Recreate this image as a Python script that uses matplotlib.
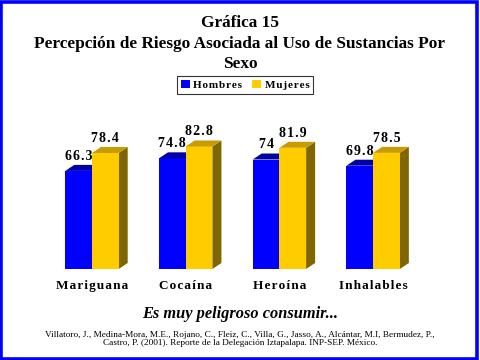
import numpy as np
import matplotlib
matplotlib.use("Agg")
import matplotlib.pyplot as plt
from matplotlib.patches import Polygon, Rectangle, Patch

# data
categorias = ["Mariguana", "Cocaína", "Heroína", "Inhalables"]
hombres = [66.3, 74.8, 74, 69.8]
mujeres = [78.4, 82.8, 81.9, 78.5]
etiquetas_h = ["66.3", "74.8", "74", "69.8"]
etiquetas_m = ["78.4", "82.8", "81.9", "78.5"]

serif = ["Liberation Serif", "DejaVu Serif"]
plt.rcParams["font.family"] = serif

def espaciado(s):
    # spread letters a little, like the original
    return "\u200a".join(s)

fig = plt.figure(figsize=(4.8, 3.6), dpi=100)
fig.patch.set_facecolor("white")

ax = fig.add_axes([0.094, 0.2528, 0.781, 0.411])
ax.set_xlim(-0.5, 3.5)
ax.set_ylim(0, 100)
ax.axis("off")

w = 0.285
dx, dy = 0.096, 4.05
x = np.arange(len(categorias))

series = [
    (hombres, etiquetas_h, x - w / 2, "#0000ff", "#0000a8", "#000080"),
    (mujeres, etiquetas_m, x + w / 2, "#ffcc00", "#c89b00", "#7f6600"),
]

for vals, labs, xs, front, top, side in series:
    ax.bar(xs, vals, width=w, color=front, zorder=2)
    for xc, v, lab in zip(xs, vals, labs):
        x0, x1 = xc - w / 2, xc + w / 2
        ax.add_patch(Polygon([(x0, v), (x1, v), (x1 + dx, v + dy), (x0 + dx, v + dy)],
                             closed=True, facecolor=top, edgecolor="none", zorder=2))
        ax.add_patch(Polygon([(x1, 0), (x1 + dx, dy), (x1 + dx, v + dy), (x1, v)],
                             closed=True, facecolor=side, edgecolor="none", zorder=1.5))
        ax.annotate(espaciado(lab), (xc, v + dy), xytext=(0, 1.5), textcoords="offset points",
                    ha="center", va="bottom", fontsize=10, fontweight="bold", family=serif)

for xi, c in zip(x, categorias):
    ax.text(xi, -11.5, espaciado(c), ha="center", va="center", fontsize=9.5,
            fontweight="bold", family=serif)

fig.text(0.5, 0.925, "Gráfica 15", ha="center", va="baseline", fontsize=12.4, fontweight="bold")
fig.text(0.5, 0.867, "Percepción de Riesgo Asociada al Uso de Sustancias Por",
         ha="center", va="baseline", fontsize=12.4, fontweight="bold")
fig.text(0.5, 0.811, "Sexo", ha="center", va="baseline", fontsize=12.4, fontweight="bold")

handles = [Patch(facecolor="#0000ff", edgecolor="none"),
           Patch(facecolor="#ffcc00", edgecolor="none")]
leg = fig.legend(handles, [espaciado("Hombres"), espaciado("Mujeres")], ncol=2,
                 loc="center", bbox_to_anchor=(0.511, 0.765), frameon=True,
                 fancybox=False, prop={"family": serif, "weight": "bold", "size": 8},
                 handlelength=0.8, handleheight=0.8, handletextpad=0.3,
                 columnspacing=0.9, borderpad=0.35, borderaxespad=0)
leg.get_frame().set_edgecolor("black")
leg.get_frame().set_linewidth(0.8)

fig.text(0.5, 0.117, "Es muy peligroso consumir...", ha="center", va="baseline",
         fontsize=11.8, fontweight="bold", style="italic")
fig.text(0.5, 0.065, "Villatoro, J., Medina-Mora, M.E., Rojano, C., Fleiz, C., Villa, G., Jasso, A., Alcántar, M.I, Bermudez, P.,",
         ha="center", va="baseline", fontsize=6.7)
fig.text(0.5, 0.042, "Castro, P. (2001). Reporte de la Delegación Iztapalapa. INP-SEP. México.",
         ha="center", va="baseline", fontsize=6.7)

fig.patches.append(Rectangle((0.003, 0.004), 0.991, 0.991, transform=fig.transFigure,
                             fill=False, edgecolor="#0000ff", linewidth=2.6))

fig.savefig("out.png", dpi=100)
